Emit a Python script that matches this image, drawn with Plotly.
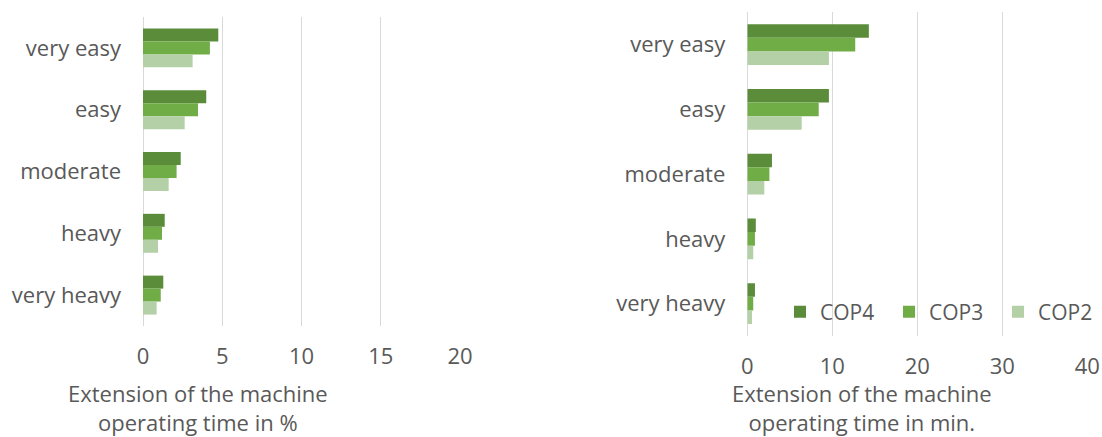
import plotly.graph_objects as go

categories = ["very easy", "easy", "moderate", "heavy", "very heavy"]
series_names = ["COP4", "COP3", "COP2"]

# Left panel: extension of machine operating time in %
pct_cop4 = [4.75, 3.99, 2.38, 1.37, 1.28]
pct_cop3 = [4.22, 3.47, 2.12, 1.20, 1.12]
pct_cop2 = [3.13, 2.63, 1.62, 0.95, 0.86]

# Right panel: extension of machine operating time in min.
min_cop4 = [14.3, 9.6, 2.9, 1.0, 0.9]
min_cop3 = [12.7, 8.4, 2.6, 0.9, 0.7]
min_cop2 = [9.6, 6.4, 2.0, 0.7, 0.55]

left_ticks = [0, 5, 10, 15, 20]
right_ticks = [0, 10, 20, 30, 40]

left_title = "Extension of the machine<br>operating time in %"
right_title = "Extension of the machine<br>operating time in min."

colors = ["#5a8c3a", "#70ad47", "#b4d0a6"]
FONT = "Open Sans"
FS = 22
TXT = "#595959"
GRID = "#d9d9d9"

W, H = 1102, 437

fig = go.Figure()
for name, vals, col in zip(series_names, [pct_cop4, pct_cop3, pct_cop2], colors):
    fig.add_trace(go.Bar(y=categories, x=vals, orientation="h", name=name,
                         marker=dict(color=col, line=dict(width=0)),
                         xaxis="x", yaxis="y", showlegend=False))
for name, vals, col in zip(series_names, [min_cop4, min_cop3, min_cop2], colors):
    fig.add_trace(go.Bar(y=categories, x=vals, orientation="h", name=name,
                         marker=dict(color=col, line=dict(width=0)),
                         xaxis="x2", yaxis="y2", showlegend=True))

def px_x(a, b):
    return [a / W, b / W]

def px_y(top, bottom):
    return [1 - bottom / H, 1 - top / H]

axis_common = dict(showgrid=True, gridcolor=GRID, gridwidth=1, zeroline=True,
                   zerolinecolor=GRID, zerolinewidth=1, showline=False,
                   ticks="", tickfont=dict(family=FONT, size=FS, color=TXT),
                   ticklabelstandoff=15, fixedrange=True, automargin=False)
yaxis_common = dict(type="category", autorange="reversed", showgrid=False,
                    zeroline=False, showline=False, ticks="",
                    tickfont=dict(family=FONT, size=FS, color=TXT),
                    ticklabelstandoff=21, fixedrange=True, automargin=False)

fig.update_layout(
    width=W, height=H,
    margin=dict(l=0, r=0, t=0, b=0, autoexpand=False),
    paper_bgcolor="white", plot_bgcolor="white",
    barmode="group", bargap=0.37, bargroupgap=0,
    font=dict(family=FONT, size=FS, color=TXT),
    xaxis=dict(domain=px_x(143, 460), range=[0, 20], tickvals=left_ticks,
               anchor="y", **axis_common),
    yaxis=dict(domain=px_y(17, 326), anchor="x", **yaxis_common),
    xaxis2=dict(domain=px_x(747.3, 1087.3), range=[0, 40], tickvals=right_ticks,
                anchor="y2", **axis_common),
    yaxis2=dict(domain=px_y(12.3, 336), anchor="x2", **yaxis_common),
    legend=dict(orientation="h", x=780 / W, xanchor="left", y=1 - 312 / H,
                yanchor="middle", font=dict(family=FONT, size=21, color=TXT),
                bgcolor="rgba(0,0,0,0)", entrywidth=64, entrywidthmode="pixels",
                traceorder="normal"),
    annotations=[
        dict(text=left_title, x=198 / W, y=1 - 376 / H,
             xref="paper", yref="paper", showarrow=False, xanchor="center",
             yanchor="top", align="center",
             font=dict(family=FONT, size=FS, color=TXT)),
        dict(text=right_title, x=862 / W, y=1 - 376 / H,
             xref="paper", yref="paper", showarrow=False, xanchor="center",
             yanchor="top", align="center",
             font=dict(family=FONT, size=FS, color=TXT)),
    ],
)

fig.write_html("out.html")
